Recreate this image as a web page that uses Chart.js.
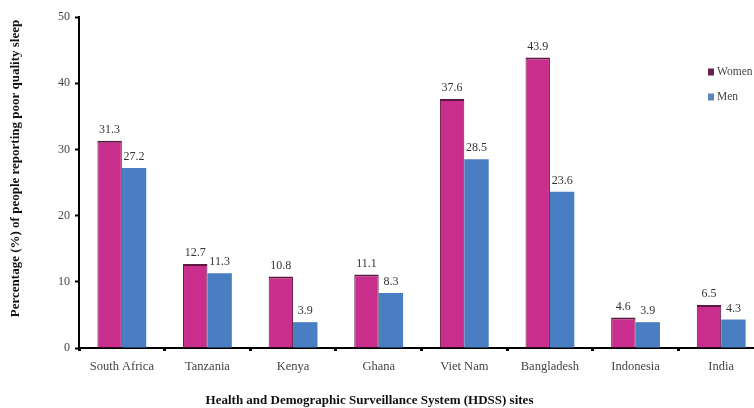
<!DOCTYPE html>
<html>
<head>
<meta charset="utf-8">
<script src="https://cdn.jsdelivr.net/npm/chart.js@4/dist/chart.umd.min.js"></script>
<style>
  html, body { margin: 0; padding: 0; background: #fff; overflow: hidden; }
  #wrap { width: 770px; height: 408px; }
</style>
</head>
<body>
<div id="wrap"><canvas id="chart-1"></canvas></div>
<script>
// x values (HDSS sites)
const sites = ["South Africa", "Tanzania", "Kenya", "Ghana", "Viet Nam", "Bangladesh", "Indonesia", "India"];
// y values
const women = [31.3, 12.7, 10.8, 11.1, 37.6, 43.9, 4.6, 6.5];
const men = [27.2, 11.3, 3.9, 8.3, 28.5, 23.6, 3.9, 4.3];
const yTicks = [0, 10, 20, 30, 40, 50];

const xTitle = 'Health and Demographic Surveillance System (HDSS) sites';
const yTitle = 'Percentage (%) of people reporting poor quality sleep';

const serif = "'Liberation Serif', 'DejaVu Serif', serif";

// numbers above the bars
const valueLabels = {
    id: 'valueLabels',
    afterDatasetsDraw(chart) {
        const c = chart.ctx;
        c.save();
        c.font = "12px " + serif;
        c.fillStyle = '#333';
        c.textAlign = 'center';
        c.textBaseline = 'bottom';
        chart.data.datasets.forEach((ds, i) => {
            chart.getDatasetMeta(i).data.forEach((bar, j) => {
                c.fillText(ds.data[j].toFixed(1), bar.x, bar.y - 5);
            });
        });
        c.restore();
    }
};

// small vertical legend sitting inside the plot, top right
const sideLegend = {
    id: 'sideLegend',
    afterDraw(chart) {
        const c = chart.ctx;
        const a = chart.chartArea;
        c.save();
        c.font = "11.5px " + serif;
        c.textBaseline = 'middle';
        chart.data.datasets.forEach((ds, i) => {
            const x = a.right - 56;
            const y = a.top + 55 + i * 25;
            c.fillStyle = ds.legendColor;
            c.fillRect(x, y - 3.5, 6, 7);
            c.fillStyle = '#444';
            c.fillText(ds.label, x + 9, y);
        });
        c.restore();
    }
};

// axis titles, a bit off-centre like the original figure
const axisTitles = {
    id: 'axisTitles',
    afterDraw(chart) {
        const c = chart.ctx;
        const a = chart.chartArea;
        c.save();
        c.font = "bold 13px " + serif;
        c.fillStyle = '#111';
        c.textAlign = 'center';
        c.textBaseline = 'middle';
        c.fillText(xTitle, (a.left + a.right) / 2 - 52, chart.height - 7);
        c.translate(16, (a.top + a.bottom) / 2 - 14);
        c.rotate(-Math.PI / 2);
        c.fillText(yTitle, 0, 0);
        c.restore();
    }
};

const ctx = document.getElementById('chart-1').getContext('2d');
const chart_1 = new Chart(ctx, {
    type: 'bar',
    data: {
        labels: sites,
        datasets: [
            {
                label: 'Women',
                data: women,
                backgroundColor: '#c92e8c',
                borderColor: '#5c1840',
                borderWidth: { top: 2, left: 1, right: 1, bottom: 0 },
                legendColor: '#6a2048'
            },
            {
                label: 'Men',
                data: men,
                backgroundColor: '#4a7ec2',
                borderWidth: 0,
                legendColor: '#5a86c0'
            }
        ]
    },
    options: {
        responsive: true,
        maintainAspectRatio: false,
        animation: false,
        datasets: {
            bar: { categoryPercentage: 0.57, barPercentage: 1 }
        },
        layout: { padding: { top: 17, right: 6, left: 0, bottom: 0 } },
        plugins: {
            legend: { display: false },
            tooltip: { enabled: false }
        },
        scales: {
            x: {
                grid: {
                    offset: true,
                    drawOnChartArea: false,
                    drawTicks: true,
                    tickLength: 3,
                    tickWidth: 3,
                    color: '#000'
                },
                border: { display: true, color: '#000', width: 2 },
                ticks: {
                    color: '#444',
                    padding: 8,
                    font: { family: serif, size: 12.5 }
                },
                afterFit(scale) { scale.height = 60; }
            },
            y: {
                min: 0,
                max: 50,
                afterBuildTicks(scale) { scale.ticks = yTicks.map(v => ({ value: v })); },
                grid: {
                    drawOnChartArea: false,
                    drawTicks: true,
                    tickLength: 4,
                    tickWidth: 2,
                    color: '#000'
                },
                border: { display: true, color: '#000', width: 2 },
                ticks: {
                    color: '#444',
                    padding: 5,
                    font: { family: serif, size: 12 }
                },
                afterFit(scale) { scale.width = 79; }
            }
        }
    },
    plugins: [valueLabels, sideLegend, axisTitles]
});
</script>
</body>
</html>
